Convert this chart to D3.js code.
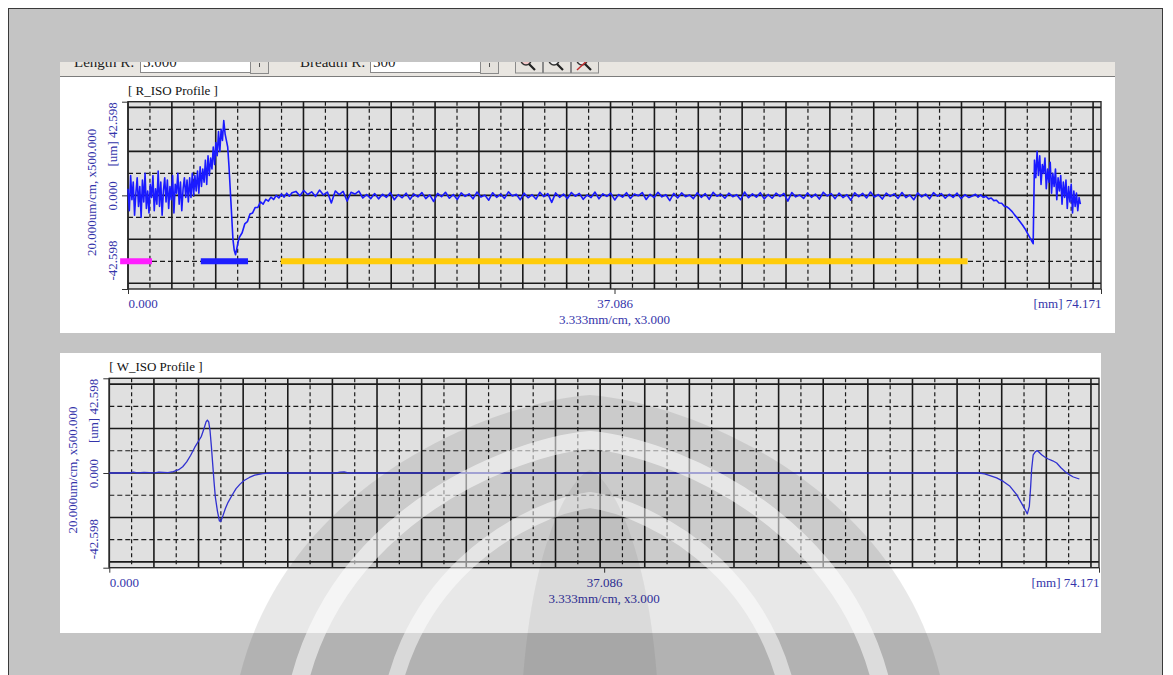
<!DOCTYPE html>
<html>
<head>
<meta charset="utf-8">
<script src="https://cdn.jsdelivr.net/npm/d3@7"></script>
<style>
  body { margin: 0; background: #fff; }
  svg { display: block; font-family: 'Liberation Serif', 'Times New Roman', serif; }
</style>
</head>
<body>
<div class="profile"></div>
<script>
(function () {
  // axis extents and labels
  var lengthMm = 74.171;
  var rangeUm = 42.598;
  var xTickValues = [0, 37.086, 74.171];
  var xTickLabels = ['0.000', '37.086', '[mm] 74.171'];
  var yTickValues = [42.598, 0, -42.598];
  var yTickLabels = ['[um] 42.598', '0.000', '-42.598'];
  var xScaleLabel = '3.333mm/cm, x3.000';
  var yScaleLabel = '20.000um/cm, x500.000';
  var gridStepMm = 1.672;
  var gridStepUm = 10;

  // R_ISO profile, sampled in segments (start mm, step mm, values um)
  var rSegStart = [0, 8.5, 12.8, 64.4, 69.1];
  var rSegStep = [0.1, 0.2, 0.3, 0.2, 0.1];
  var rSeg1 = [3, -7, 9, -2, 6, -9, 1, 8, -5, 4, -10, 7, -3, 10, -6, 2, -8, 5, -1, 9,
    -7, 3, -4, 11, -5, 6, -9, 2, 8, -3, 7, -6, 4, -2, 9, -8, 5, 1, 10, -4, 6, -7, 3, 8, -1,
    7, -3, 8, -1, 10, 0, 9, 2, 11, 1, 13, 4, 12, 6, 16, 5, 18, 9, 17, 12, 22, 14, 24, 18,
    29, 20, 30, 25, 34,
    28, 25, 22, 13, 2, -9, -20, -25, -27, -24, -21];
  var rSeg2 = [-19, -17, -13, -12, -8.5, -8, -5.5, -5.5, -3, -4, -1.8, -2.6, -0.8, -1.9,
    0, -1.2, 0.6, -0.8, 1, -0.4, 1.2];
  var rSeg3 = [1.8, -0.2, 2.2, 0.4, 1.6, -0.5, 2.4, 0.2, 1.5, -3.5,
    2.0, 0.3, 1.8, -2.6, 1.4, 0.6, 1.9, -1.2, 0.4, -1.5,
    0.8, -1.6, 0.5, -0.9, 1.2, -2.0, 0.3, -1.1, 1.0, -1.8,
    0.6, -0.7, 1.3, -1.5, 0.2, -2.8, 0.9, -0.6, 1.4, -1.3,
    0.4, -1.9, 1.1, -0.5, 0.7, -1.6, 1.5, -0.8, 0.1, -2.2,
    1.2, -0.9, 0.6, -1.4, 1.6, -0.3, 0.5, -2.0, 1.0, -1.1,
    0.3, -1.7, 1.4, -0.6, 0.8, -3.2, 1.1, -0.9, 0.6, -1.5,
    1.3, -0.4, 0.9, -1.8, 0.2, -1.0, 1.5, -1.6, 0.7, -0.5,
    1.0, -2.1, 0.4, -0.8, 1.2, -1.4, 0.6, -0.2, 1.3, -1.9,
    0.5, -1.0, 1.4, -0.7, 0.3, -2.4, 0.9, -1.2, 1.1, -0.6,
    0.2, -1.5, 1.2, -0.9, 0.8, -1.8, 1.4, -0.4, 0.5, -1.3,
    1.0, -0.6, 0.3, -2.0, 1.5, -1.1, 0.7, -0.8, 1.2, -1.6,
    0.4, -1.3, 1.0, -0.5, 0.9, -2.6, 1.3, -0.7, 0.2, -1.4,
    1.1, -0.9, 0.6, -1.7, 1.4, -0.3, 0.8, -1.5, 1.0, -1.0,
    0.3, -2.2, 1.2, -0.6, 0.9, -1.2, 1.5, -0.8, 0.4, -1.7,
    1.0, -0.5, 0.7, -1.4, 1.3, -1.0, 0.2, -2.0, 1.1, -0.7,
    0.6, -1.6, 1.2, -0.4, 0.8, -1.3, 0.5, -0.9, 1.0, -1.5,
    0.3, -1.0];
  var rSeg4 = [-0.2, 0.5, -0.8, 0.2, -1.0, -0.4, -1.6, -1.2, -2.4, -2.2, -3.5, -3.6,
    -5.0, -5.2, -6.2, -7.4, -9.0, -10.4, -12.0, -13.6, -15.4, -17.6, -19.8, -22.0];
  var rSeg5 = [16, 8, 20, 9, 18, 5, 14, 10, 17, 3, 12, 6, 15, 1, 10, 4, 12, -2, 8, 2,
    9, -4, 6, -1, 7, -6, 4, -3, 5, -8, 2, -5, 1, -7, -1, -4];
  var rSegValues = [rSeg1, rSeg2, rSeg3, rSeg4, rSeg5];

  // W_ISO profile (mm, um)
  var wMm = [0, 1.5, 1.8, 2.1, 2.6, 3.4, 3.7, 4.4, 4.8, 5.2, 5.5, 5.8, 6.1, 6.4, 6.7, 6.9, 7.1, 7.25, 7.35,
    7.45, 7.55, 7.65, 7.75, 7.85, 7.95, 8.1, 8.25, 8.35, 8.5, 8.7, 8.9, 9.2, 9.5, 9.8,
    10.1, 10.5, 10.9, 11.5, 12.0, 17.0, 17.3, 17.6, 17.9, 65.2, 65.6, 66.0, 66.5, 67.0,
    67.5, 68.0, 68.5, 68.8, 68.95, 69.05, 69.12, 69.24, 69.4, 69.54, 69.7, 69.87, 70.1,
    70.37, 70.7, 71.0, 71.3, 71.62, 71.9, 72.25, 72.7];
  var wUm = [0, 0, 0.4, 0, 0.3, 0.1, 0.4, 0.2, 0.6, 1.5, 2.8, 5, 8, 11.5, 14.5, 16.5, 20, 23, 23.8,
    23, 19, 12, 4, -4, -11, -17, -21.5, -21.8, -19.5, -16, -13.2, -10, -7, -5,
    -3.4, -2, -1, -0.3, 0, 0, 0.4, 0.5, 0, 0, -0.4, -1.2, -2.2, -3.8,
    -6, -9.7, -15, -18.4, -15, -6, 1.5, 8.2, 9.5, 10.1, 9.2, 8.2, 7.2,
    6.3, 5.5, 4.5, 2.5, 0.7, -0.6, -1.8, -2.7];

  // evaluation sections under the R profile
  var sectionStartMm = [-0.6, 5.55, 11.65];
  var sectionEndMm = [1.83, 9.15, 64.0];
  var sectionLevelUm = -30;
  var sectionColors = ['#ff1eff', '#1e1eff', '#ffcc0a'];

  var rData = [];
  rSegValues.forEach(function (vals, s) {
    vals.forEach(function (v, i) {
      rData.push([rSegStart[s] + i * rSegStep[s], v]);
    });
  });
  var wData = wMm.map(function (m, i) { return [m, wUm[i]]; });

  var svg = d3.select('.profile').append('svg')
    .attr('width', 1173)
    .attr('height', 675);
  var defs = svg.append('defs');

  // window background
  svg.append('rect')
    .attr('x', 8.5).attr('y', 8.5)
    .attr('width', 1154).attr('height', 700)
    .attr('fill', '#c4c4c4')
    .attr('stroke', '#3a3a3a');

  // toolbar (top part hidden)
  defs.append('clipPath').attr('id', 'bar-clip')
    .append('rect').attr('x', 60).attr('y', 62).attr('width', 1055).attr('height', 16);
  var bar = svg.append('g').attr('clip-path', 'url(#bar-clip)');
  bar.append('rect').attr('x', 60).attr('y', 50).attr('width', 1055).attr('height', 27)
    .attr('fill', '#e9e6e1');
  bar.append('line').attr('x1', 60).attr('x2', 1115).attr('y1', 76.5).attr('y2', 76.5)
    .attr('stroke', '#7c7c7c');
  var barText = [['Length R:', 74], ['Breadth R:', 300]];
  bar.selectAll('.lbl').data(barText).enter().append('text')
    .attr('x', function (d) { return d[1]; })
    .attr('y', 67)
    .attr('font-size', '15px')
    .attr('fill', '#222')
    .text(function (d) { return d[0]; });
  var boxes = [[140, 110, '5.000'], [370, 110, '500']];
  boxes.forEach(function (b) {
    bar.append('rect').attr('x', b[0] + 0.5).attr('y', 50.5).attr('width', b[1]).attr('height', 22)
      .attr('fill', '#fff').attr('stroke', '#888');
    bar.append('text').attr('x', b[0] + 3).attr('y', 67).attr('font-size', '15px')
      .attr('fill', '#222').text(b[2]);
    bar.append('rect').attr('x', b[0] + b[1] + 0.5).attr('y', 50.5).attr('width', 18).attr('height', 23)
      .attr('fill', '#e4e1dc').attr('stroke', '#8a8a8a');
    bar.append('line').attr('x1', b[0] + b[1] + 9.5).attr('x2', b[0] + b[1] + 9.5)
      .attr('y1', 63).attr('y2', 67).attr('stroke', '#555');
  });
  [515, 543, 571].forEach(function (bx, i) {
    bar.append('rect').attr('x', bx + 0.5).attr('y', 50.5).attr('width', 27).attr('height', 22.5)
      .attr('fill', '#e6e3de').attr('stroke', '#8a8a8a');
    bar.append('circle').attr('cx', bx + 11).attr('cy', 60).attr('r', 5)
      .attr('fill', i === 0 ? '#f4c8c8' : '#eee').attr('stroke', '#333').attr('stroke-width', 1.5);
    bar.append('line').attr('x1', bx + 14).attr('y1', 64).attr('x2', bx + 20).attr('y2', 70)
      .attr('stroke', '#222').attr('stroke-width', 2.2);
    if (i === 2) {
      bar.append('line').attr('x1', bx + 6).attr('y1', 70).attr('x2', bx + 20).attr('y2', 57)
        .attr('stroke', '#c03030').attr('stroke-width', 1.5);
    }
  });

  // white panels
  svg.append('rect').attr('x', 60).attr('y', 77).attr('width', 1055).attr('height', 256).attr('fill', '#fff');
  svg.append('rect').attr('x', 60).attr('y', 353).attr('width', 1041).attr('height', 280).attr('fill', '#fff');

  var labelColor = '#3434aa';

  function drawProfile(cfg) {
    var x = d3.scaleLinear().domain([0, lengthMm]).range([cfg.left, cfg.right]);
    var y = d3.scaleLinear().domain([-rangeUm, rangeUm]).range([cfg.bottom, cfg.top]);
    var g = svg.append('g');

    g.append('text')
      .attr('x', cfg.left)
      .attr('y', cfg.top - 7)
      .attr('font-size', '13px')
      .attr('fill', '#111')
      .text(cfg.title);

    g.append('rect')
      .attr('x', cfg.left).attr('y', cfg.top)
      .attr('width', cfg.right - cfg.left).attr('height', cfg.bottom - cfg.top)
      .attr('fill', '#e0e0e0');

    // grid
    var vx = d3.range(0, Math.floor(lengthMm / gridStepMm) + 1);
    g.append('g').selectAll('line').data(vx).enter().append('line')
      .attr('x1', function (k) { return x(k * gridStepMm); })
      .attr('x2', function (k) { return x(k * gridStepMm); })
      .attr('y1', cfg.top).attr('y2', cfg.bottom)
      .attr('stroke', '#1a1a1a')
      .attr('stroke-width', function (k) { return k % 2 ? 1.2 : 1.6; })
      .attr('stroke-dasharray', function (k) { return k % 2 ? '4,3' : null; });
    var hy = d3.range(-4, 5);
    g.append('g').selectAll('line').data(hy).enter().append('line')
      .attr('x1', cfg.left).attr('x2', cfg.right)
      .attr('y1', function (k) { return y(k * gridStepUm); })
      .attr('y2', function (k) { return y(k * gridStepUm); })
      .attr('stroke', '#1a1a1a')
      .attr('stroke-width', function (k) { return k % 2 ? 1.2 : 1.6; })
      .attr('stroke-dasharray', function (k) { return k % 2 ? '5,3' : null; });

    g.append('rect')
      .attr('x', cfg.left).attr('y', cfg.top)
      .attr('width', cfg.right - cfg.left).attr('height', cfg.bottom - cfg.top)
      .attr('fill', 'none')
      .attr('stroke', '#2a2a2a')
      .attr('stroke-width', 1.4);

    // axes
    var ax = g.append('g')
      .attr('transform', 'translate(0,' + cfg.bottom + ')')
      .call(d3.axisBottom(x).tickValues(xTickValues).tickSize(5).tickSizeOuter(0)
        .tickFormat(function (d, i) { return xTickLabels[i]; }));
    ax.attr('font-family', null).attr('font-size', null);
    ax.select('.domain').remove();
    ax.selectAll('line').attr('stroke', '#333');
    ax.selectAll('text')
      .attr('y', 19).attr('dy', null)
      .attr('font-size', '13px')
      .attr('fill', labelColor)
      .attr('text-anchor', function (d, i) { return ['start', 'middle', 'end'][i]; });
    g.append('text')
      .attr('x', x(xTickValues[1]))
      .attr('y', cfg.bottom + 35)
      .attr('font-size', '13px')
      .attr('fill', labelColor)
      .attr('text-anchor', 'middle')
      .text(xScaleLabel);

    var ay = g.append('g')
      .attr('transform', 'translate(' + cfg.left + ',0)')
      .call(d3.axisLeft(y).tickValues(yTickValues).tickSize(6).tickSizeOuter(0)
        .tickFormat(function (d, i) { return yTickLabels[i]; }));
    ay.attr('font-family', null).attr('font-size', null);
    ay.select('.domain').remove();
    ay.selectAll('line').attr('stroke', '#333');
    var yShift = [0, 0, -9];
    ay.selectAll('text')
      .attr('x', null).attr('dy', null)
      .attr('font-size', '13px')
      .attr('fill', labelColor)
      .attr('transform', function (d, i) { return 'translate(-11,' + yShift[i] + ') rotate(-90)'; })
      .attr('text-anchor', function (d, i) { return ['end', 'middle', 'start'][i]; });
    g.append('text')
      .attr('transform', 'translate(' + (cfg.left - 32) + ',' + (y(0) - 3) + ') rotate(-90)')
      .attr('font-size', '13px')
      .attr('fill', labelColor)
      .attr('text-anchor', 'middle')
      .text(yScaleLabel);

    var line = d3.line()
      .x(function (d) { return x(d[0]); })
      .y(function (d) { return y(d[1]); });
    g.append('path')
      .attr('d', line(cfg.data))
      .attr('fill', 'none')
      .attr('stroke', cfg.color)
      .attr('stroke-width', cfg.width)
      .attr('stroke-linejoin', 'round');

    if (cfg.sections) {
      g.append('g').selectAll('line').data(sectionStartMm).enter().append('line')
        .attr('x1', function (d) { return x(d); })
        .attr('x2', function (d, i) { return x(sectionEndMm[i]); })
        .attr('y1', y(sectionLevelUm)).attr('y2', y(sectionLevelUm))
        .attr('stroke', function (d, i) { return sectionColors[i]; })
        .attr('stroke-width', 6);
    }
  }

  drawProfile({
    title: '[ R_ISO Profile ]', data: rData, color: '#1a1aff', width: 1.6, sections: true,
    left: 128, right: 1101, top: 101.7, bottom: 289
  });
  drawProfile({
    title: '[ W_ISO Profile ]', data: wData, color: '#3030d0', width: 1.3, sections: false,
    left: 109.3, right: 1099, top: 378.3, bottom: 567.7
  });

  // faint page watermark over the lower part
  var ogive = function (cx, w, apex, base) {
    var h = base - apex;
    return 'M' + (cx - w) + ',' + base +
      'C' + (cx - w) + ',' + (apex + h * 0.3) + ' ' + (cx - w * 0.3) + ',' + (apex + 8) + ' ' + cx + ',' + apex +
      'C' + (cx + w * 0.3) + ',' + (apex + 8) + ' ' + (cx + w) + ',' + (apex + h * 0.3) + ' ' + (cx + w) + ',' + base + 'Z';
  };
  var mark = svg.append('g').attr('pointer-events', 'none');
  mark.append('path').attr('d', ogive(590, 360, 395, 760))
    .attr('fill', '#000').attr('opacity', 0.09);
  mark.append('path').attr('d', ogive(590, 300, 440, 760))
    .attr('fill', 'none').attr('stroke', '#fff').attr('stroke-width', 18).attr('opacity', 0.55);
  mark.append('path').attr('d', ogive(590, 205, 500, 760))
    .attr('fill', 'none').attr('stroke', '#fff').attr('stroke-width', 16).attr('opacity', 0.5);
  mark.append('path').attr('d', ogive(590, 70, 470, 760))
    .attr('fill', '#000').attr('opacity', 0.06);
})();
</script>
</body>
</html>
